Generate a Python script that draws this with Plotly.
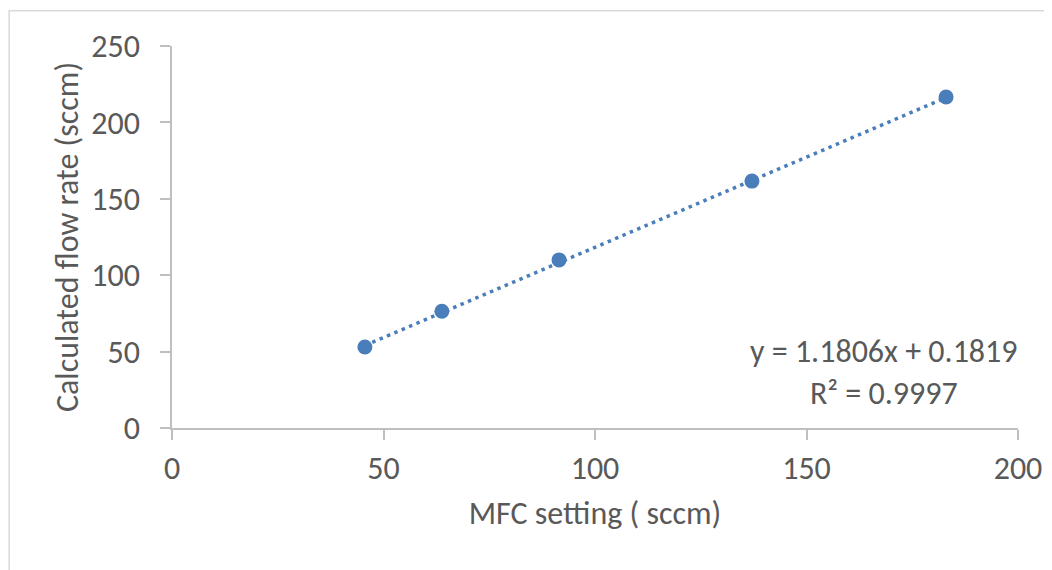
import plotly.graph_objects as go

# Data
mfc_setting = [45.6, 63.8, 91.5, 137.1, 183.0]
calculated_flow = [53.0, 76.4, 110.0, 161.6, 216.6]
trend_slope = 1.1806
trend_intercept = 0.1819
r_squared = 0.9997
x_ticks = [0, 50, 100, 150, 200]
y_ticks = [0, 50, 100, 150, 200, 250]

FONT = "Carlito, Calibri, Lato, sans-serif"
GREY = "#595959"
BLUE = "#4a7ebb"
FS = 32

trend_x = [min(mfc_setting), max(mfc_setting)]
trend_y = [trend_slope * v + trend_intercept for v in trend_x]

fig = go.Figure()
fig.add_trace(go.Scatter(x=trend_x, y=trend_y, mode="lines",
                         line=dict(color=BLUE, width=3.5, dash="3.5px,4.5px"),
                         hoverinfo="skip", showlegend=False))
fig.add_trace(go.Scatter(x=mfc_setting, y=calculated_flow, mode="markers",
                         marker=dict(color=BLUE, size=15), showlegend=False))

fig.add_annotation(xref="x", yref="y", x=168.3, y=36,
                   text=f"y = {trend_slope}x + {trend_intercept}<br>R² = {r_squared}",
                   showarrow=False, align="center",
                   font=dict(family=FONT, size=FS, color=GREY))

fig.add_shape(type="rect", xref="paper", yref="paper",
              x0=-0.1925, x1=1.08, y0=-0.45, y1=1.092,
              line=dict(color="#d9d9d9", width=1.5), fillcolor="rgba(0,0,0,0)")

fig.update_layout(
    width=1052, height=570,
    margin=dict(l=164, r=42, t=38, b=150),
    paper_bgcolor="white", plot_bgcolor="white",
    font=dict(family=FONT, color=GREY),
    xaxis=dict(range=[0, 200], tickvals=x_ticks, showgrid=False, zeroline=False,
               showline=True, linecolor="#bfbfbf", linewidth=1.5,
               ticks="outside", ticklen=10, tickcolor="#bfbfbf", tickwidth=1.5,
               ticklabelstandoff=1,
               tickfont=dict(size=FS, family=FONT, color=GREY),
               title=dict(text="MFC setting ( sccm)", font=dict(size=FS, family=FONT, color=GREY),
                          standoff=14)),
    yaxis=dict(range=[0, 250], tickvals=y_ticks, showgrid=False, zeroline=False,
               showline=True, linecolor="#bfbfbf", linewidth=1.5,
               ticks="outside", ticklen=10, tickcolor="#bfbfbf", tickwidth=1.5,
               ticklabelstandoff=14,
               tickfont=dict(size=FS, family=FONT, color=GREY),
               title=dict(text="Calculated flow rate (sccm)", font=dict(size=FS, family=FONT, color=GREY),
                          standoff=3)),
)

fig.write_html("out.html")
